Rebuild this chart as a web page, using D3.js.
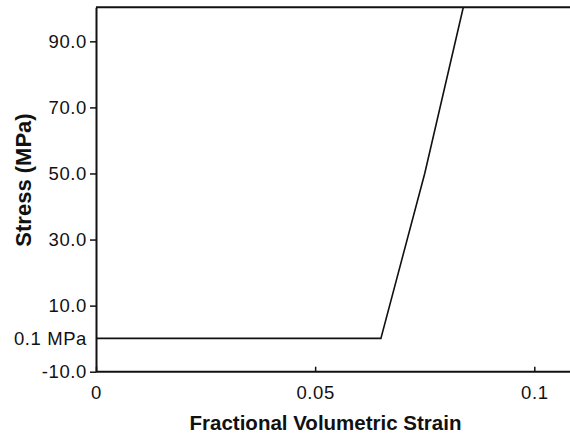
<!DOCTYPE html>
<html>
<head>
<meta charset="utf-8">
<script src="https://cdn.jsdelivr.net/npm/d3@7/dist/d3.min.js"></script>
<style>
  html, body { margin: 0; padding: 0; background: #fff; }
  svg { display: block; }
  .tick-label { font-family: "Liberation Sans", Arial, sans-serif; font-size: 18.5px; letter-spacing: 0.6px; fill: #111; }
  .axis-title { font-family: "Liberation Sans", Arial, sans-serif; font-weight: bold; fill: #111; }
</style>
</head>
<body>
<div id="chart"></div>
<script>
// stress-strain curve
const strain = [0, 0.065, 0.075, 0.0838];
const stress = [0.1, 0.1, 50, 100.3];

const yTicks = [-10, 10, 30, 50, 70, 90];
const xTicks = [0, 0.05, 0.1];
const xTickLabels = ['0', '0.05', '0.1'];
const refLevel = 0.1;
const refLabel = '0.1 MPa';

(function () {
    const width = 570;
    const height = 434;
    const left = 96, right = 570, top = 7.3, bottom = 371.7;

    const x = d3.scaleLinear().domain([0, 0.1]).range([left, 534.3]);
    const y = d3.scaleLinear().domain([-10, 100.3]).range([bottom, top]);

    // plain hyphen for negatives, as in the source figure
    const fmtY = (d) => d3.format('.1f')(d).replace('\u2212', '-');

    const svg = d3.select('#chart')
        .append('svg')
        .attr('width', width)
        .attr('height', height);

    svg.append('clipPath').attr('id', 'plot-clip')
        .append('rect')
        .attr('x', left).attr('y', top)
        .attr('width', right - left).attr('height', bottom - top);

    // curve
    const pts = strain.map((s, i) => [s, stress[i]]);
    svg.append('path')
        .datum(pts)
        .attr('clip-path', 'url(#plot-clip)')
        .attr('fill', 'none')
        .attr('stroke', '#111')
        .attr('stroke-width', 1.6)
        .attr('stroke-linejoin', 'miter')
        .attr('d', d3.line().x((d) => x(d[0])).y((d) => y(d[1])));

    // top border
    svg.append('line')
        .attr('x1', left).attr('x2', right)
        .attr('y1', top).attr('y2', top)
        .attr('stroke', '#111').attr('stroke-width', 2);

    // y axis
    const yAxis = svg.append('g')
        .attr('transform', `translate(${left},0)`)
        .call(d3.axisLeft(y).tickValues(yTicks).tickSize(6).tickSizeOuter(0).tickFormat(fmtY));
    yAxis.select('.domain').attr('stroke', '#111').attr('stroke-width', 2);
    yAxis.selectAll('.tick line').attr('stroke', '#111').attr('stroke-width', 1.5);
    yAxis.selectAll('.tick text')
        .attr('class', 'tick-label')
        .attr('x', -9)
        .attr('dy', '0.34em')
        .attr('font-family', null).attr('font-size', null).attr('fill', null);

    svg.append('text')
        .attr('class', 'tick-label')
        .attr('x', left - 9)
        .attr('y', y(refLevel))
        .attr('dy', '0.34em')
        .attr('text-anchor', 'end')
        .text(refLabel);

    // x axis, ticks point inward
    const xAxis = svg.append('g')
        .attr('transform', `translate(0,${bottom})`)
        .call(d3.axisBottom(x).tickValues(xTicks).tickSize(-5).tickSizeOuter(0)
            .tickFormat((d, i) => xTickLabels[i]));
    xAxis.select('.domain').attr('stroke', '#111').attr('stroke-width', 2)
        .attr('d', `M${left},0H${right}`);
    xAxis.selectAll('.tick line').attr('stroke', '#111').attr('stroke-width', 1.5);
    xAxis.selectAll('.tick text')
        .attr('class', 'tick-label')
        .attr('y', 27)
        .attr('dy', null)
        .attr('font-family', null).attr('font-size', null).attr('fill', null);

    // axis titles
    svg.append('text')
        .attr('class', 'axis-title')
        .attr('x', 325.5)
        .attr('y', 430)
        .attr('text-anchor', 'middle')
        .attr('font-size', '20.5px')
        .text('Fractional Volumetric Strain');

    svg.append('text')
        .attr('class', 'axis-title')
        .attr('transform', 'translate(31,180) rotate(-90)')
        .attr('text-anchor', 'middle')
        .attr('font-size', '22px')
        .text('Stress (MPa)');
})();
</script>
</body>
</html>
